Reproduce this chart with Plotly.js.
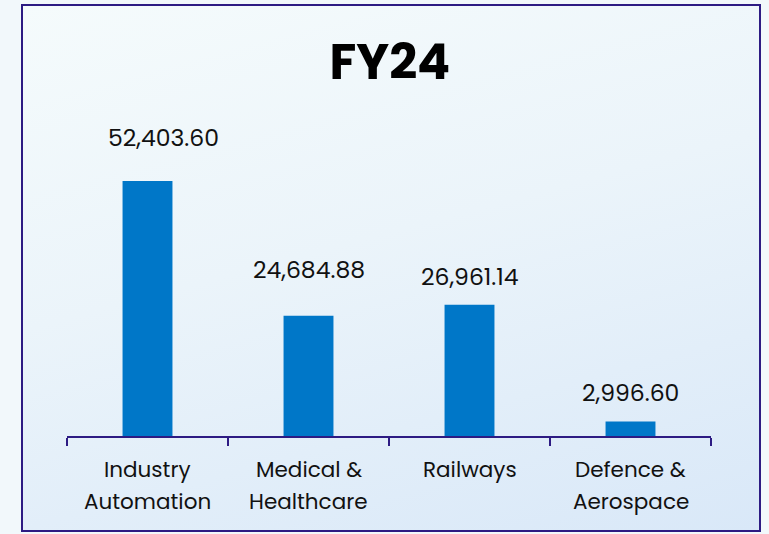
<!DOCTYPE html>
<html>
<head>
<meta charset="utf-8">
<script src="https://cdn.plot.ly/plotly-3.0.1.min.js"></script>
<style>
  html, body { margin:0; padding:0; width:769px; height:534px; overflow:hidden; background:#f2f8fb; }
  #frame { position:absolute; left:21px; top:4px; width:736px; height:524px; border:2px solid #2d1b83;
           background: linear-gradient(165deg, #f5fbfc 0%, #ebf4fa 45%, #d9e8f8 100%); }
  #chart { position:absolute; left:0; top:0; width:769px; height:534px; }
</style>
</head>
<body>
<div id="frame"></div>
<div id="chart"></div>
<script>
const categories = ["Industry<br>Automation", "Medical &<br>Healthcare", "Railways", "Defence &<br>Aerospace"];
const values = [52403.60, 24684.88, 26961.14, 2996.60];
const valueLabels = ["52,403.60", "24,684.88", "26,961.14", "2,996.60"];
const title = "FY24";

const labelShiftY = [43, 46, 28, 29];
const labelShiftX = [16, 0, 0, 0];
const font = "Poppins, 'Open Sans', Roboto, sans-serif";

const annotations = categories.map((c, i) => ({
  x: c, y: values[i], xref: "x", yref: "y", text: valueLabels[i], showarrow: false,
  yshift: labelShiftY[i], xshift: labelShiftX[i], font: {family: font, size: 23.5, color: "#111"}
}));

// category labels, one annotation per line for the wider line spacing
categories.forEach((c) => {
  c.split("<br>").forEach((line, j) => {
    annotations.push({
      x: c, y: 0, xref: "x", yref: "paper", text: line, showarrow: false,
      yanchor: "middle", yshift: -33 - 32 * j,
      font: {family: font, size: 21.5, color: "#111"}
    });
  });
});

const trace = {
  type: "bar", x: categories, y: values, width: 0.31,
  marker: {color: "#0077c8"}, hoverinfo: "skip"
};

const layout = {
  width: 769, height: 534,
  paper_bgcolor: "rgba(0,0,0,0)", plot_bgcolor: "rgba(0,0,0,0)",
  margin: {l: 67, r: 58, t: 144, b: 98},
  title: {text: title, x: 0.507, xanchor: "center", y: 0.884, yanchor: "middle", yref: "container",
          font: {family: font, size: 49, weight: 700, color: "#000"}},
  showlegend: false,
  xaxis: {type: "category", range: [-0.5, 3.5], showline: true, linecolor: "#2d1b83", linewidth: 2,
          ticks: "outside", tickson: "boundaries", ticklen: 8, tickwidth: 2, tickcolor: "#2d1b83",
          showticklabels: false, showgrid: false, zeroline: false, fixedrange: true},
  yaxis: {range: [0, 60000], visible: false, showgrid: false, zeroline: false, fixedrange: true},
  annotations: annotations
};

Plotly.newPlot("chart", [trace], layout, {displayModeBar: false, staticPlot: true});
</script>
</body>
</html>
